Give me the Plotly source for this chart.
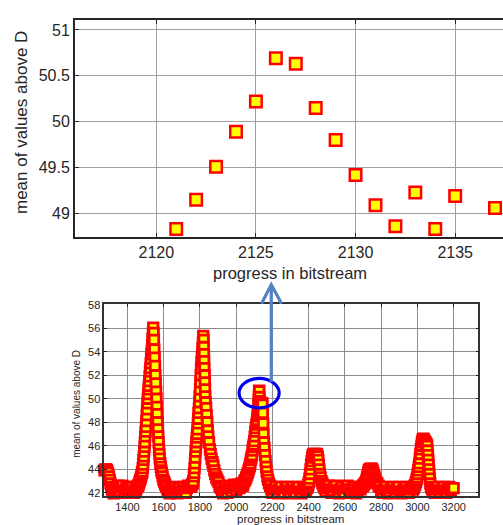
import plotly.graph_objects as go

# ---------------- data ----------------
# zoomed view (top panel)
zoom_progress = [2121, 2122, 2123, 2124, 2125, 2126, 2127, 2128, 2129, 2130,
                 2131, 2132, 2133, 2134, 2135, 2137]
zoom_mean = [48.83, 49.15, 49.51, 49.89, 50.22, 50.69, 50.63, 50.15, 49.80, 49.42,
             49.09, 48.86, 49.23, 48.83, 49.19, 49.06]

# full view (bottom panel), read segment by segment
lead_x = [1273, 1278, 1283, 1288, 1293, 1298, 1302, 1306, 1310, 1314, 1318, 1324, 1330, 1336,
          1342, 1348, 1354, 1360, 1366, 1372, 1378, 1384, 1390, 1396, 1402, 1408, 1414, 1420,
          1426, 1432, 1438, 1444]
lead_y = [43.9, 44.0, 44.0, 43.9, 43.7, 43.4, 43.1, 42.8, 42.5, 42.3, 42.1, 41.95, 42.2, 42.5,
          42.3, 42.6, 42.4, 42.1, 42.5, 42.6, 42.2, 42.0, 42.3, 42.5, 42.1, 42.4, 42.0, 42.2,
          42.5, 42.1, 42.0, 42.3]

peak1_x = [1446, 1450, 1454, 1458, 1462, 1466, 1470, 1474, 1477, 1480, 1482, 1484, 1486, 1488,
           1490, 1492, 1494, 1496, 1498, 1500, 1502, 1504, 1506, 1508, 1510, 1512, 1514, 1516,
           1518, 1520, 1522, 1524, 1526, 1528, 1530, 1532, 1534, 1536, 1538, 1540, 1542,
           1544, 1546, 1548, 1550, 1552, 1554, 1556, 1558, 1560, 1562, 1564, 1566, 1568, 1570,
           1572, 1574, 1576, 1578, 1581, 1584, 1587, 1590, 1594, 1598, 1603, 1608, 1614, 1620]
peak1_y = [42.2, 42.4, 42.5, 42.6, 42.7, 42.9, 43.1, 43.3, 43.5, 43.7, 43.8, 44.1, 44.4, 44.8,
           45.1, 45.5, 45.9, 46.3, 46.8, 47.2, 47.6, 48.1, 48.6, 49.1, 49.6, 50.0, 50.4, 50.8,
           51.1, 51.5, 51.9, 52.3, 52.6, 53.0, 53.4, 53.8, 54.1, 54.6, 55.1, 55.6, 56.05,
           55.6, 55.0, 54.2, 53.5, 52.8, 52.0, 51.3, 50.6, 50.0, 49.3, 48.7, 48.0, 47.4, 46.8,
           46.3, 45.7, 45.3, 44.9, 44.5, 44.2, 43.9, 43.7, 43.4, 43.1, 42.9, 42.7, 42.5, 42.3]

gap1_x = [1626, 1632, 1638, 1644, 1650, 1656, 1662, 1668, 1674, 1680, 1686, 1692, 1698, 1704,
          1710, 1716, 1722, 1728, 1734, 1740]
gap1_y = [42.1, 41.95, 42.2, 42.4, 42.0, 42.3, 42.5, 42.2, 41.95, 42.3, 42.4, 42.1, 42.0, 42.3,
          42.5, 42.2, 42.0, 42.4, 42.6, 42.5]

peak2_x = [1748, 1752, 1756, 1760, 1763, 1766, 1768, 1770, 1772, 1774, 1776, 1778, 1780, 1782,
           1784, 1786, 1788, 1790, 1792, 1794, 1796, 1798, 1800, 1802, 1804, 1806, 1808, 1810,
           1812, 1814, 1816, 1818,
           1820, 1821, 1822, 1823, 1824, 1826, 1827, 1828, 1829, 1831, 1834, 1837, 1840, 1843,
           1846, 1850, 1855, 1859, 1864, 1869, 1874, 1879, 1884, 1890, 1896, 1902, 1908, 1915]
peak2_y = [42.5, 42.6, 42.7, 42.8, 43.0, 43.4, 43.7, 44.1, 44.5, 45.0, 45.5, 45.9, 46.3, 46.7,
           47.0, 47.4, 47.9, 48.3, 48.8, 49.2, 49.7, 50.2, 50.8, 51.4, 52.0, 52.6, 53.1, 53.5,
           53.9, 54.3, 54.8, 55.35,
           55.0, 54.4, 53.8, 53.2, 52.6, 52.0, 51.4, 50.8, 50.2, 49.7, 49.2, 48.6, 48.0, 47.3,
           46.8, 46.3, 45.7, 45.3, 44.9, 44.6, 44.3, 43.9, 43.6, 43.3, 43.1, 42.9, 42.6, 42.4]

gap2_x = [1922, 1928, 1934, 1940, 1946, 1952, 1958, 1964, 1970, 1976, 1982, 1988, 1994, 2000,
          2006, 2012, 2018, 2024, 2030, 2036]
gap2_y = [42.1, 41.95, 42.3, 42.5, 42.2, 42.0, 42.4, 42.6, 42.3, 42.1, 42.4, 42.7, 42.5, 42.2,
          42.6, 42.7, 42.4, 42.6, 42.8, 42.6]

peak3_rise_x = [2040, 2045, 2050, 2055, 2060, 2064, 2068, 2072, 2075, 2078, 2081, 2084, 2087,
                2090, 2093, 2096, 2099, 2102, 2105, 2108, 2111, 2114, 2116, 2118, 2119, 2120]
peak3_rise_y = [42.8, 43.0, 43.1, 43.3, 43.5, 43.7, 43.9, 44.1, 44.3, 44.5, 44.8, 45.0, 45.2,
                45.6, 45.9, 46.1, 46.4, 46.8, 47.2, 47.5, 47.8, 48.0, 48.2, 48.5, 48.6, 48.7]
peak3_fall_x = [2139, 2141, 2143, 2145, 2147, 2149, 2151, 2153, 2156, 2159, 2162, 2165, 2168,
                2172, 2176, 2181, 2187, 2194]
peak3_fall_y = [49.3, 49.5, 49.65, 49.5, 48.8, 47.9, 47.0, 46.3, 45.8, 45.2, 44.7, 44.2, 43.8,
                43.4, 43.1, 42.8, 42.6, 42.3]

gap3_x = [2200, 2208, 2216, 2224, 2232, 2240, 2248, 2256, 2264, 2272, 2280, 2288, 2296, 2304,
          2312, 2320, 2328, 2336, 2344, 2352, 2360, 2368, 2376, 2384, 2390]
gap3_y = [42.0, 42.3, 42.5, 42.2, 41.95, 42.3, 42.5, 42.1, 42.0, 42.4, 42.5, 42.2, 41.95, 42.3,
          42.5, 42.2, 42.0, 42.4, 42.5, 42.1, 41.95, 42.3, 42.5, 42.2, 42.4]

peak4_x = [2395, 2398, 2401, 2404, 2407, 2410, 2413, 2416, 2419, 2422, 2426, 2431, 2436, 2441,
           2446, 2450, 2453, 2456, 2459, 2462, 2466, 2471, 2476, 2482, 2488]
peak4_y = [42.5, 42.7, 42.9, 43.2, 43.6, 44.0, 44.4, 44.7, 45.0, 45.2, 45.3, 45.25, 45.3, 45.2,
           45.3, 45.1, 44.8, 44.4, 44.0, 43.6, 43.3, 43.0, 42.8, 42.6, 42.4]

gap4_x = [2494, 2502, 2510, 2518, 2526, 2534, 2542, 2550, 2558, 2566, 2574, 2582, 2590, 2598,
          2606, 2614, 2622, 2630, 2638, 2646, 2654, 2662, 2670, 2678, 2686, 2694]
gap4_y = [42.1, 42.4, 42.6, 42.3, 42.0, 42.2, 42.5, 42.6, 42.2, 41.95, 42.3, 42.5, 42.2, 42.0,
          42.4, 42.6, 42.3, 42.0, 42.2, 42.5, 42.3, 41.95, 42.2, 42.5, 42.3, 42.5]

peak5_x = [2700, 2705, 2710, 2715, 2719, 2722, 2725, 2728, 2731, 2735, 2740, 2745, 2749, 2753,
           2757, 2761, 2764, 2768, 2773, 2779, 2786, 2793]
peak5_y = [42.6, 42.7, 42.8, 42.9, 43.1, 43.3, 43.5, 43.7, 43.9, 44.0, 44.05, 44.0, 44.05, 43.9,
           43.7, 43.5, 43.3, 43.1, 42.9, 42.8, 42.6, 42.5]

gap5_x = [2800, 2808, 2816, 2824, 2832, 2840, 2848, 2856, 2864, 2872, 2880, 2888, 2896, 2904,
          2912, 2920, 2928, 2936, 2944, 2952, 2960, 2968, 2975]
gap5_y = [42.2, 42.0, 42.3, 42.5, 42.2, 41.95, 42.1, 42.4, 42.5, 42.2, 42.0, 42.3, 42.5, 42.1,
          41.95, 42.2, 42.4, 42.5, 42.2, 42.0, 42.3, 42.5, 42.3]

peak6_x = [2980, 2984, 2988, 2992, 2995, 2998, 3001, 3004, 3007, 3010, 3013, 3016, 3019, 3022,
           3025, 3028, 3032, 3036, 3040, 3044, 3048, 3051, 3054, 3056, 3058, 3060, 3062, 3064,
           3066, 3068, 3071, 3075, 3080]
peak6_y = [42.4, 42.6, 42.7, 42.9, 43.1, 43.3, 43.6, 43.9, 44.2, 44.5, 44.9, 45.3, 45.7, 46.0,
           46.3, 46.5, 46.6, 46.55, 46.4, 46.3, 46.2, 46.1, 46.0, 45.6, 45.2, 44.8, 44.4, 44.0,
           43.6, 43.2, 42.8, 42.5, 42.3]

tail_x = [3088, 3096, 3104, 3112, 3120, 3128, 3136, 3144, 3152, 3160, 3168, 3176, 3184, 3190, 3200]
tail_y = [42.1, 42.0, 42.3, 42.5, 42.2, 42.0, 42.3, 42.5, 42.2, 42.0, 42.3, 42.5, 42.2, 42.4, 42.4]

# tick labels
zoom_xticks = [2120, 2125, 2130, 2135]
zoom_yticks = [49, 49.5, 50, 50.5, 51]
zoom_yticklabels = ["49", "49.5", "50", "50.5", "51"]
full_xticks = [1400, 1600, 1800, 2000, 2200, 2400, 2600, 2800, 3000, 3200]
full_yticks = [42, 44, 46, 48, 50, 52, 54, 56, 58]

x_title = "progress in bitstream"
y_title = "mean of values above D"

# ---------------- assemble ----------------
full_x = (lead_x + peak1_x + gap1_x + peak2_x + gap2_x + peak3_rise_x + zoom_progress
          + peak3_fall_x + gap3_x + peak4_x + gap4_x + peak5_x + gap5_x + peak6_x + tail_x)
full_y = (lead_y + peak1_y + gap1_y + peak2_y + gap2_y + peak3_rise_y + zoom_mean
          + peak3_fall_y + gap3_y + peak4_y + gap4_y + peak5_y + gap5_y + peak6_y + tail_y)

W, H = 503, 525


def px(x):
    return x / W


def py(y):
    return 1 - y / H


FONT = "Liberation Sans, Arial, Helvetica, sans-serif"
TXT = "#262626"

fig = go.Figure()
fig.add_trace(go.Scatter(
    x=zoom_progress, y=zoom_mean, mode="markers", xaxis="x", yaxis="y",
    marker=dict(symbol="square", size=11.5, color="#ffff00",
                line=dict(color="#ff0000", width=2.5)),
    showlegend=False, hoverinfo="x+y"))
fig.add_trace(go.Scatter(
    x=full_x, y=full_y, mode="markers", xaxis="x2", yaxis="y2", cliponaxis=False,
    marker=dict(symbol="square", size=9.5, color="#ffff00",
                line=dict(color="#ff0000", width=2.8)),
    showlegend=False, hoverinfo="x+y"))

common = dict(showgrid=True, zeroline=False, showline=True, ticks="inside",
              tickcolor=TXT)

fig.update_layout(
    width=W, height=H, autosize=False,
    margin=dict(l=0, r=0, t=0, b=0),
    paper_bgcolor="white", plot_bgcolor="white",
    font=dict(family=FONT, color=TXT),
    xaxis=dict(domain=[px(75), 1.0], range=[2115.92, 2137.4], anchor="y",
               tickvals=zoom_xticks, ticktext=[str(v) for v in zoom_xticks],
               tickfont=dict(size=16, color=TXT), ticklen=4, mirror="ticks",
               linecolor="#262626", linewidth=2, gridcolor="#a0a0a0", gridwidth=1, **common),
    yaxis=dict(domain=[py(234.3), py(14.3)], range=[48.747, 51.107], anchor="x",
               tickvals=zoom_yticks, ticktext=zoom_yticklabels,
               tickfont=dict(size=16, color=TXT), ticklen=4, mirror=False,
               linecolor="#262626", linewidth=2, gridcolor="#a0a0a0", gridwidth=1, **common),
    xaxis2=dict(domain=[px(104.3), px(478.3)], range=[1272, 3336], anchor="y2",
                tickvals=full_xticks, ticktext=[str(v) for v in full_xticks],
                tickfont=dict(size=11, color=TXT), ticklen=3, mirror="ticks",
                linecolor="#333333", linewidth=1.5, gridcolor="#8c8c8c", gridwidth=1, **common),
    yaxis2=dict(domain=[py(497.8), py(302.7)], range=[41.71, 58.05], anchor="x2",
                tickvals=full_yticks, ticktext=[str(v) for v in full_yticks],
                tickfont=dict(size=11, color=TXT), ticklen=3, mirror="ticks",
                linecolor="#333333", linewidth=1.5, gridcolor="#8c8c8c", gridwidth=1, **common),
)

# axis titles
fig.add_annotation(text=x_title, xref="paper", yref="paper", x=px(289.7), y=py(271),
                   showarrow=False, font=dict(size=16.5, color=TXT),
                   xanchor="center", yanchor="middle")
fig.add_annotation(text=y_title, xref="paper", yref="paper", x=px(21.5), y=py(118.3),
                   textangle=-90, showarrow=False, font=dict(size=17, color=TXT),
                   xanchor="center", yanchor="middle")
fig.add_annotation(text=x_title, xref="paper", yref="paper", x=px(290.3), y=py(520.5),
                   showarrow=False, font=dict(size=11.5, color=TXT),
                   xanchor="center", yanchor="middle")
fig.add_annotation(text=y_title, xref="paper", yref="paper", x=px(75.8), y=py(404.2),
                   textangle=-90, showarrow=False, font=dict(size=10, color=TXT),
                   xanchor="center", yanchor="middle")

# highlight ellipse around the zoomed region and the arrow to the top panel
fig.add_shape(type="circle", xref="x2", yref="y2", x0=2016, x1=2237, y0=49.23, y1=51.73,
              line=dict(color="#0000ee", width=3.2))
ARROW = "#5583c2"
fig.add_shape(type="line", xref="paper", yref="paper",
              x0=px(271.3), x1=px(271.3), y0=py(381.7), y1=py(284),
              line=dict(color=ARROW, width=3.2))
fig.add_shape(type="path", xref="paper", yref="paper",
              path=f"M {px(261.5)},{py(302)} L {px(271.3)},{py(283)} L {px(281.5)},{py(302)}",
              line=dict(color=ARROW, width=3.2))

fig.write_html("out.html", config={"displayModeBar": False},
               post_script="document.body.style.margin='0';")
